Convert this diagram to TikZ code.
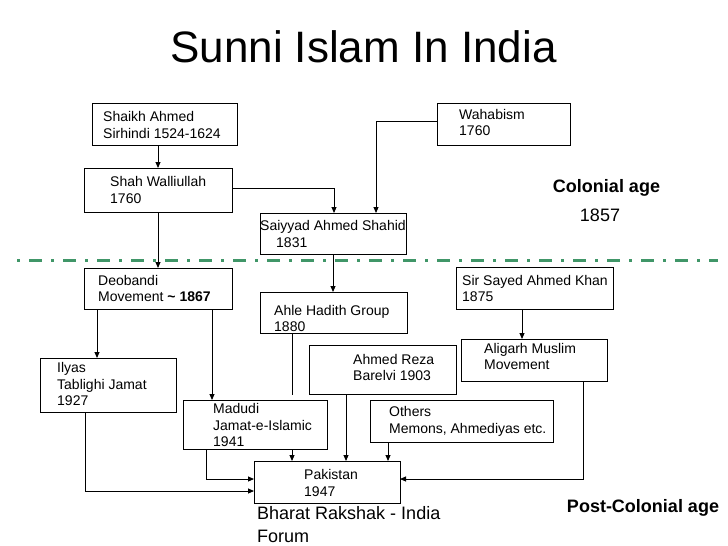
\documentclass[tikz,border=0pt]{standalone}
\usepackage{fontspec}
\setmainfont{Liberation Sans}
\usetikzlibrary{arrows.meta}

\definecolor{ageline}{RGB}{64,150,104}

\begin{document}
\begin{tikzpicture}[x=1pt,y=-1pt,
    box/.style={draw,line width=0.9pt,inner sep=0,outer sep=0},
    txt/.style={anchor=west,align=left,inner sep=0,font=\fontsize{14}{16.8}\selectfont},
    link/.style={line width=0.9pt},
    arr/.style={link,-{Triangle[length=6pt,width=5pt]}}]
  \useasboundingbox (0,0) rectangle (728,546);
  \node[font=\fontsize{44}{51}\selectfont] (title) at (363.5,47) {Sunni Islam In India};
  % boxes: name/centre x/centre y/width/height
  \foreach \name/\cx/\cy/\w/\h in {shaikh/164.5/124/145/42, wahab/503.5/124/133/42,
      shah/158/190/148/44, saiyyad/333/233.5/146/41, deobandi/158/288.5/148/41,
      ahle/333.5/312.5/147/41, sir/534.5/288/157/42, aligarh/534/360/146/42,
      reza/382.5/369.5/147/49, ilyas/108/385/136/54, madudi/255/424.5/144/49,
      others/461.5/421/183/42, pak/327/482/146/42}
    \node[box,minimum width=\w,minimum height=\h] (\name) at (\cx,\cy) {};
  \node[txt] (shaikhT) at (103,125) {Shaikh Ahmed\\Sirhindi 1524-1624};
  \node[txt] (wahabT) at (459,122.5) {Wahabism\\1760};
  \node[txt] (shahT) at (110,190) {Shah Walliullah\\1760};
  \node[txt] (saiyyadT) at (260,234) {Saiyyad Ahmed Shahid\\\hspace*{16pt}1831};
  \node[txt] (deobandiT) at (98,288.5) {Deobandi\\Movement \textbf{\textasciitilde\ 1867}};
  \node[txt] (ahleT) at (274,318.5) {Ahle Hadith Group\\1880};
  \node[txt] (sirT) at (462,288.5) {Sir Sayed Ahmed Khan\\1875};
  \node[txt] (aligarhT) at (484,356.5) {Aligarh Muslim\\Movement};
  \node[txt] (rezaT) at (353,367.5) {Ahmed Reza\\Barelvi 1903};
  \node[txt] (ilyasT) at (57,384) {Ilyas\\Tablighi Jamat\\1927};
  \node[txt] (madudiT) at (213,425) {Madudi\\Jamat-e-Islamic\\1941};
  \node[txt] (othersT) at (389,421.5) {Others\\Memons, Ahmediyas etc.};
  \node[txt] (pakT) at (304,483) {Pakistan\\1947};
  % ages
  \draw[ageline,line width=3pt,dash pattern=on 3pt off 9pt on 13pt off 9pt] (17,260) -- (718,260);
  \node[font=\fontsize{18}{21}\selectfont\bfseries] (colonial) at (606.5,188) {Colonial age};
  \node[font=\fontsize{18}{21}\selectfont] (year) at (600,215) {1857};
  \node[font=\fontsize{18}{21}\selectfont\bfseries] (postcolonial) at (643,508) {Post-Colonial age};
  \node[anchor=west,align=left,inner sep=0,font=\fontsize{18}{23}\selectfont] (forum) at (257,524.5) {Bharat Rakshak - India\\Forum};
  % connectors
  \draw[arr] (shaikh.south -| shah.north) -- (shah.north);
  \draw[arr] ([yshift=2]shah.east) -| ([xshift=1]saiyyad.north);
  \draw[arr] ([yshift=3]wahab.west) -| ([xshift=43]saiyyad.north);
  \draw[arr] (shah.south) -- (deobandi.north);
  \draw[arr] (saiyyad.south) -- (saiyyad.south |- ahle.north);
  \draw[arr] ([xshift=-12.5]sir.south) -- ([xshift=-12]aligarh.north);
  \draw[arr] ([xshift=-61]deobandi.south) -- ([xshift=-11]ilyas.north);
  \draw[arr] ([xshift=54]deobandi.south) -- ([xshift=-43]madudi.north);
  \draw[link] ([xshift=-41.5]ahle.south) -- ++(0,62);
  \draw[arr] ([xshift=37]madudi.south) -- ([xshift=-35]pak.north);
  \draw[arr] ([xshift=-49]madudi.south) |- ([yshift=3]pak.west);
  \draw[arr] ([xshift=-23]ilyas.south) |- ([yshift=-9]pak.west);
  \draw[arr] ([xshift=-36.5]reza.south) -- ([xshift=19]pak.north);
  \draw[arr] ([xshift=-73.5]others.south) -- ([xshift=61]pak.north);
  \draw[arr] ([xshift=49]aligarh.south) |- ([yshift=3]pak.east);
\end{tikzpicture}
\end{document}
